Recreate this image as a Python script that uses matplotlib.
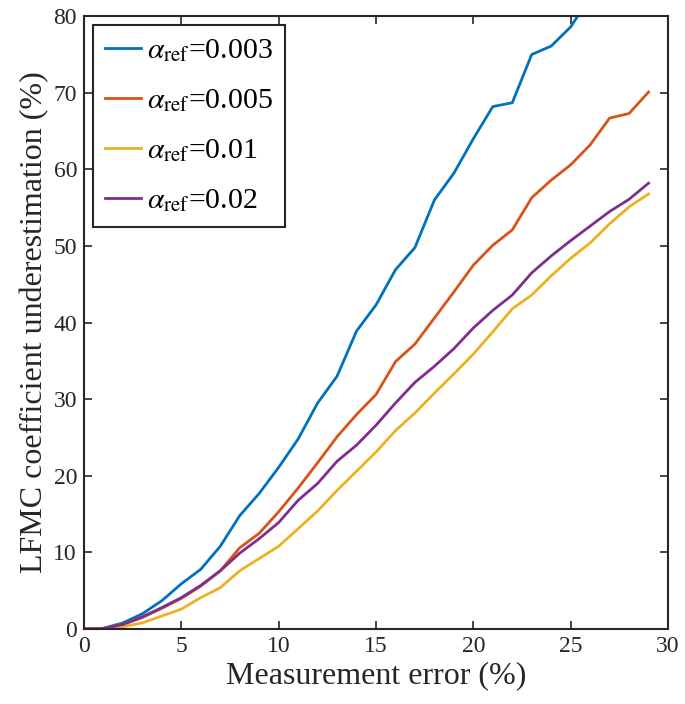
import matplotlib
matplotlib.use("Agg")
import matplotlib.pyplot as plt

# ── DATA ─────────────────────────────────────
err = list(range(0, 30))

u_0003 = [0, 0.1, 0.8, 2.0, 3.7, 5.9, 7.8, 10.8, 14.8, 17.7,
          21.1, 24.8, 29.5, 33.0, 38.9, 42.3, 46.9, 49.8, 56.0, 59.5,
          64.0, 68.2, 68.7, 75.0, 76.1, 78.6, 82.5, 86.0, 88.5, 91.5]
u_0005 = [0, 0.1, 0.6, 1.5, 2.7, 4.0, 5.6, 7.6, 10.6, 12.5,
          15.3, 18.4, 21.7, 25.1, 28.0, 30.6, 34.9, 37.2, 40.6, 44.0,
          47.5, 50.1, 52.1, 56.3, 58.6, 60.6, 63.2, 66.7, 67.3, 70.1]
u_001 = [0, 0.0, 0.3, 0.8, 1.7, 2.6, 4.1, 5.4, 7.6, 9.2,
         10.8, 13.1, 15.4, 18.1, 20.6, 23.1, 25.9, 28.2, 30.8, 33.3,
         35.9, 38.8, 41.8, 43.6, 46.1, 48.4, 50.4, 52.9, 55.1, 56.8]
u_002 = [0, 0.05, 0.6, 1.6, 2.8, 4.1, 5.7, 7.6, 9.9, 11.8,
         13.9, 16.8, 19.0, 21.9, 24.0, 26.6, 29.5, 32.2, 34.3, 36.6,
         39.3, 41.6, 43.6, 46.5, 48.7, 50.7, 52.6, 54.5, 56.1, 58.2]

labels = [r'$\alpha_{\mathrm{ref}}$=0.003', r'$\alpha_{\mathrm{ref}}$=0.005',
          r'$\alpha_{\mathrm{ref}}$=0.01', r'$\alpha_{\mathrm{ref}}$=0.02']
colors = ['#0072BD', '#D95319', '#EDB120', '#7E2F8E']

# ── STYLE ────────────────────────────────────
plt.rcParams['font.family'] = ['Liberation Serif', 'DejaVu Serif']
plt.rcParams['mathtext.fontset'] = 'stix'

fig = plt.figure(figsize=(6.85, 7.04), dpi=100)
ax = fig.add_axes([0.1226, 0.1065, 0.8526, 0.8705])

for ys, c, lab in zip([u_0003, u_0005, u_001, u_002], colors, labels):
    ax.plot(err, ys, color=c, linewidth=2.0, label=lab)

ax.set_xlim(0, 30)
ax.set_ylim(0, 80)
ax.set_xticks(range(0, 31, 5))
ax.set_yticks(range(0, 81, 10))
ax.tick_params(direction='in', top=True, right=True, length=6, width=1.2,
               labelsize=17, colors='#262626', pad=5)
for s in ax.spines.values():
    s.set_linewidth(1.5)
    s.set_color('#262626')

ax.set_xlabel('Measurement error (%)', fontsize=23, color='#262626', labelpad=3)
ax.set_ylabel('LFMC coefficient underestimation (%)', fontsize=23, color='#262626', labelpad=3)

leg = ax.legend(loc='upper left', fontsize=21.5, handlelength=1.2, handletextpad=0.2,
                labelspacing=0.78, borderpad=0.4, borderaxespad=0.3, fancybox=False)
leg.get_frame().set_edgecolor('#262626')
leg.get_frame().set_linewidth(1.5)
leg.get_frame().set_alpha(1)

plt.savefig('out.png', dpi=100, facecolor='white')
